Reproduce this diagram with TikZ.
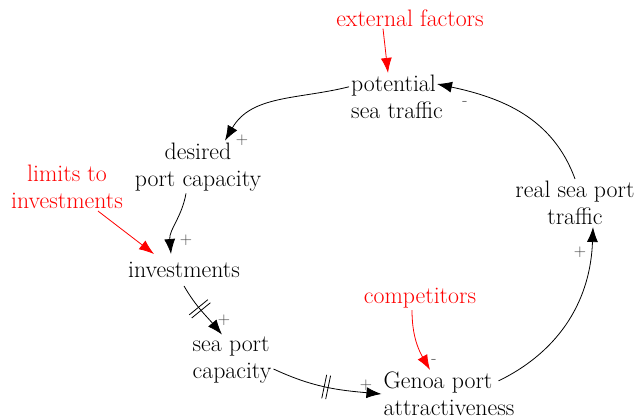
\documentclass[tikz,border=0pt]{standalone}
\usetikzlibrary{arrows.meta,decorations.markings}

\begin{document}
\begin{tikzpicture}[x=1pt, y=1pt, font=\fontsize{23.8}{27}\selectfont,
    var/.style={align=center, inner sep=2pt},
    varl/.style={align=left, inner sep=2pt},
    ext/.style={var, text=red},
    link/.style={-{Latex[length=15pt,width=11pt]}, line width=0.8pt},
    extlink/.style={link, red},
    sign/.style={font=\fontsize{17}{17}\selectfont, text=black!75, inner sep=0pt},
    delay/.style={postaction={decorate}, decoration={markings,
        mark=at position #1 with {\draw[-, line width=0.8pt] (-2,-12)--(-2,12) (2,-12)--(2,12);}}}]

\useasboundingbox (0,0) rectangle (636,417);

\node[ext] (exf) at (410,399) {external factors};
\node[varl] (pst) at (397,320) {potential\\sea traffic};
\node[var] (dpc) at (198,250) {desired\\port capacity};
\node[ext] (lim) at (67,230) {limits to\\investments};
\node[var, inner ysep=8pt] (inv) at (184,147) {investments};
\node[varl] (spc) at (232,57) {sea port\\capacity};
\node[ext] (cmp) at (420,119) {competitors};
\node[varl] (gpa) at (449,23) {Genoa port\\attractiveness};
\node[var] (rsp) at (575,214) {real sea port\\traffic};

\draw[extlink] ([xshift=-27pt]exf.south) -- ([xshift=-9pt]pst.north);
\draw[link] (pst.168) to[out=194, in=60] ([xshift=27pt]dpc.north);
\draw[link] ([xshift=-12pt]dpc.south) to[out=-100, in=95] ([xshift=-13pt]inv.north);
\draw[extlink] ([xshift=31pt]lim.south) -- ([xshift=-30pt]inv.north);
\draw[link, delay=0.45] (inv.south) to[out=-60, in=130] ([xshift=-10pt]spc.north);
\draw[link, delay=0.5] ([yshift=-9pt]spc.east) to[out=-25, in=175] (gpa.west);
\draw[extlink] ([xshift=-8pt]cmp.south) to[out=-90, in=120] ([xshift=-19pt]gpa.north);
\draw[link] ([shift={(-18pt,-11pt)}]gpa.north east) to[out=26, in=-92] ([xshift=18pt]rsp.south);
\draw[link] (rsp.north) to[out=110, in=-12] ([shift={(-8pt,13pt)}]pst.east);

\node[sign] (s1) at (242,277) {+};
\node[sign] (s2) at (465,314) {-};
\node[sign] (s3) at (186,177) {+};
\node[sign] (s4) at (224,97) {+};
\node[sign] (s5) at (366,32) {+};
\node[sign] (s6) at (434,56) {-};
\node[sign] (s7) at (580,165) {+};

\end{tikzpicture}
\end{document}
